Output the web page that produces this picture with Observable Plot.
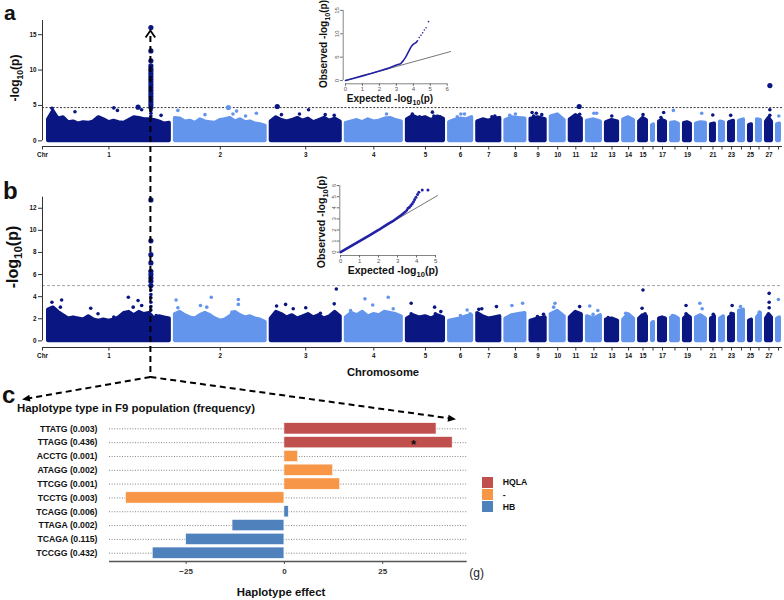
<!DOCTYPE html>
<html>
<head>
<meta charset="utf-8">
<script src="https://cdn.jsdelivr.net/npm/d3@7"></script>
<script src="https://cdn.jsdelivr.net/npm/@observablehq/plot@0.6"></script>
<style>
  html,body{margin:0;padding:0;background:#fff;}
  #root{position:relative;width:784px;height:600px;overflow:hidden;font-family:"Liberation Sans",Arial,sans-serif;}
  #root > .abs{position:absolute;}
  .lg-row{display:flex;align-items:center;height:12.3px;}
  .lg-sw{display:inline-block;width:11px;height:11px;}
  .lg-tx{margin-left:9.4px;font-family:"Liberation Sans",Arial,sans-serif;font-weight:bold;font-size:8.7px;color:#111;}
</style>
</head>
<body>
<div id="root"></div>
<script>
// ================= DATA =================
const chromosomes = d3.range(1, 29);
// chromosome lengths (Mb) read from block widths
const chrLength = [199,148,114,91,60,37,37,32,24,22,19,22,19,17,12,2.3,10.5,12,10.5,15.4,5.6,5.6,7.2,7.2,3.9,5.6,8.9,3.9];
const chrLabelShown = [1,2,3,4,5,6,7,8,9,10,11,12,13,14,15,17,19,21,23,25,27];

// Panel a: top of the dense point cloud, sampled evenly along each chromosome (-log10 p)
const cloudTopA = [
  [3.0,4.2,3.1,3.3,2.6,2.7,2.4,2.6,2.5,2.7,3.3,3.0,2.6,2.8,2.6,2.5,2.9,3.3,3.2,3.0,3.0,2.9,2.7,2.4,2.5],
  [3.2,3.1,2.7,2.8,2.5,3.0,2.7,2.6,2.5,2.9,3.0,3.2,2.7,3.0,2.6,2.7,2.4,2.3,2.1],
  [2.7,3.3,2.9,2.7,2.9,3.2,2.8,3.1,2.6,2.9,3.2,2.8,3.1,2.7],
  [2.5,2.7,2.9,2.6,3.0,2.7,2.8,3.1,3.2,2.9,2.7],
  [3.0,3.5,3.1,3.3,2.9,3.4,3.1],
  [2.6,2.9,3.1,3.0,3.3],
  [2.7,3.0,2.8,3.1,3.2],
  [2.9,3.3,3.2,3.1],
  [3.1,3.3,3.0],
  [3.4,3.7,2.9],
  [3.0,3.6,3.1],
  [2.8,3.0,2.7],
  [2.6,2.9,2.7],
  [3.0,3.3,2.9],
  [2.7,3.2,2.9],
  [2.2,2.3],
  [2.7,2.9,2.7],
  [2.5,2.6,2.4],
  [2.5,2.6,2.4],
  [2.4,2.6,2.5],
  [2.3,2.4],
  [2.7,2.6],
  [2.6,2.8],
  [2.8,3.0],
  [2.2,2.3],
  [3.0,2.9],
  [2.7,3.2,2.7],
  [2.3,2.4]
];
// Panel a: isolated points [chromosome, relative position, -log10 p]
const hitsA = [
  [1,0.03,4.6],[1,0.22,4.1],[1,0.54,4.65],[1,0.57,4.3],[1,0.74,4.75],[1,0.77,4.4],[1,0.93,3.6],
  [2,0.03,4.3],[2,0.33,3.7],[2,0.59,4.7],[2,0.64,3.8],[2,0.68,4.2],[2,0.78,3.5],[2,0.90,3.9],
  [3,0.09,4.85],[3,0.15,3.7],[3,0.41,3.8],[3,0.54,4.4],[3,0.78,3.7],[3,0.91,3.6],
  [4,0.73,3.8],
  [5,0.14,3.8],[5,0.34,3.4],[5,0.69,4.05],[5,0.73,3.5],[5,0.9,3.4],
  [6,0.35,3.4],[6,0.51,3.8],[6,0.67,3.8],
  [7,0.64,3.4],[7,0.77,3.5],
  [8,0.21,3.6],[8,0.5,3.8],
  [9,0.09,4.0],[9,0.19,3.5],[9,0.38,3.9],[9,0.75,3.7],
  [11,0.79,4.85],[11,0.83,3.75],
  [12,0.5,3.9],[12,0.7,3.9],
  [13,0.48,3.5],
  [15,0.5,3.7],
  [17,0.26,3.3],[17,0.68,4.0],
  [18,0.28,4.3],
  [20,0.58,3.9],
  [21,0.45,3.65],
  [23,0.32,3.6],
  [27,0.66,7.8],[27,0.66,4.4],[27,0.66,3.6],
  [28,0.63,3.5]
];
const peakChr = 1;
const peakRel = 0.846;
const peakValuesA = [16.0,12.7,11.3,10.6,10.2,9.9,9.5,9.1,8.7,8.3,7.9,7.5,7.1,6.7,6.3,5.9,5.5,5.1,4.7,4.3,3.9,3.5,3.1];
const thresholdA = 4.7;

// Panel b
const cloudTopB = [
  [2.8,3.0,2.6,2.3,2.0,2.1,2.0,1.9,2.2,1.9,1.8,1.9,1.8,1.9,2.1,2.5,2.6,2.3,2.6,2.4,2.5,2.0,2.2,2.1,2.0],
  [2.4,2.6,2.3,2.1,2.0,2.3,2.5,2.3,2.0,1.8,1.9,2.2,2.6,2.3,2.1,2.2,2.0,1.9,1.7],
  [2.0,2.6,2.4,2.1,2.3,2.0,2.2,2.4,2.1,2.3,2.0,2.2,2.6,2.2],
  [2.1,2.5,2.3,2.6,2.2,2.4,2.3,2.6,2.5,2.4,2.2],
  [2.0,2.3,2.1,2.2,2.0,2.3,2.1],
  [1.8,1.9,2.0,2.2,2.3],
  [2.5,2.2,2.0,2.1,2.2],
  [2.0,2.3,2.4,2.5],
  [1.8,2.0,2.1],
  [2.4,2.7,2.2],
  [2.1,2.6,2.4],
  [2.2,2.0,2.3],
  [1.9,2.0,1.8],
  [1.9,2.4,2.0],
  [2.0,2.3,2.2],
  [1.6,1.7],
  [2.0,2.1,2.0],
  [2.1,2.2,2.0],
  [2.0,2.3,2.1],
  [2.1,2.3,2.0],
  [2.0,2.2],
  [2.0,2.2],
  [2.1,2.4],
  [2.7,2.8],
  [1.8,1.9],
  [2.1,2.5],
  [2.0,2.4,2.1],
  [2.0,2.1]
];
const hitsB = [
  [1,0.03,3.5],[1,0.11,3.7],[1,0.1,3.05],[1,0.35,2.95],[1,0.41,2.45],[1,0.54,2.15],[1,0.66,3.95],[1,0.7,3.05],[1,0.74,3.65],[1,0.77,3.2],[1,0.89,2.3],
  [2,0.01,3.7],[2,0.03,3.0],[2,0.28,3.2],[2,0.35,3.05],[2,0.40,3.95],[2,0.63,2.6],[2,0.70,3.75],[2,0.70,3.3],
  [3,0.08,3.15],[3,0.21,3.3],[3,0.32,2.9],[3,0.5,3.0],[3,0.71,2.5],[3,0.91,3.35],[3,0.94,4.7],
  [4,0.08,2.75],[4,0.34,3.8],[4,0.48,3.25],[4,0.76,3.95],[4,0.85,2.9],
  [5,0.11,3.4],[5,0.11,2.45],[5,0.75,3.05],[5,0.77,2.45],[5,0.92,2.65],
  [6,0.49,2.3],[6,0.79,2.8],[6,0.92,2.45],
  [7,0.06,2.85],[7,0.19,2.9],[7,0.84,3.1],
  [8,0.32,3.2],[8,0.87,3.4],
  [9,0.46,2.2],[9,0.87,2.4],
  [10,0.2,3.05],[10,0.3,3.4],[10,0.7,2.45],
  [11,0.47,2.5],[11,0.83,3.1],
  [12,0.19,3.15],[12,0.44,2.4],[12,0.79,2.75],
  [13,0.16,2.1],
  [14,0.22,2.5],
  [15,0.37,2.95],[15,0.49,4.6],[15,0.77,2.45],
  [18,0.16,2.3],
  [19,0.28,3.2],[19,0.28,2.45],
  [20,0.38,3.4],[20,0.63,2.9],
  [21,0.6,2.4],
  [23,0.43,2.5],[23,0.65,3.2],
  [24,0.28,3.1],
  [26,0.6,2.6],
  [27,0.53,4.3],[27,0.53,3.5],[27,0.53,3.0],
  [28,0.44,3.75]
];
const peakValuesB = [12.75,9.05,7.8,7.05,6.3,6.0,5.7,5.4,5.0,4.6,4.2,3.9,3.5,3.1,2.8];
const thresholdB = 5.0;

// QQ insets (expected, observed -log10 p)
const qqA_expected = [0,0.5,1,1.5,2,2.5,3,3.25,3.4,3.55,3.65,3.75,3.85,3.95,4.05,4.15,4.25];
const qqA_observed = [0,0.5,1,1.5,2.05,2.6,3.3,3.6,4.2,5.0,5.7,6.4,7.1,7.6,7.9,8.1,8.5];
const qqA_tailExpected = [4.35,4.45,4.55,4.65,4.75,4.9];
const qqA_tailObserved = [9.2,9.7,10.2,10.8,11.3,12.6];
const qqB_expected = [0,0.5,1,1.5,2,2.5,2.8,3.0,3.2,3.35,3.45,3.5];
const qqB_observed = [0,0.5,1,1.5,2,2.55,2.85,3.1,3.35,3.55,3.7,3.8];
const qqB_tailExpected = [3.55,3.62,3.7,3.77,3.84,3.9,3.97,4.05,4.12,4.3,4.6];
const qqB_tailObserved = [3.95,4.05,4.2,4.36,4.55,4.75,4.95,5.2,5.4,5.6,5.6];

// Panel c
const haplotypes = ["TTATG (0.003)","TTAGG (0.436)","ACCTG (0.001)","ATAGG (0.002)","TTCGG (0.001)","TCCTG (0.003)","TCAGG (0.006)","TTAGA (0.002)","TCAGA (0.115)","TCCGG (0.432)"];
const hapEffect = [38.7, 42.8, 3.5, 12.4, 14.2, -40.3, 1.1, -13.2, -25.0, -33.5];
const hapGroup = ["HQLA","HQLA","-","-","-","-","HB","HB","HB","HB"];
const groupNames = ["HQLA","-","HB"];
const significantHaps = ["TTAGG (0.436)"];
const effectTicks = [-25, 0, 25];

// ================= STYLE / LAYOUT =================
const DARK = "#0a1682", LIGHT = "#6495ED";
const QQBLUE = "#2121a6";
const groupColor = {"HQLA": "#C0504D", "-": "#F79646", "HB": "#4F81BD"};
const FONT = "'Liberation Sans', Arial, sans-serif";
const CHR_GAP = 9.2, X_PAD_L = 9.5, X_PAD_R = 4.6;
const R_SMALL = 1.8, R_BIG = 2.6;
const intFmt = d3.format("d");

const root = document.getElementById("root");
function place(el, left, top) { el.classList.add("abs"); el.style.left = left + "px"; el.style.top = top + "px"; root.appendChild(el); return el; }

const starts = []; { let p = 0; chrLength.forEach(L => { starts.push(p); p += L + CHR_GAP; }); }
const totalLen = starts[27] + chrLength[27];
const colorOf = c => (c % 2 ? DARK : LIGHT);
const peakPos = starts[peakChr - 1] + peakRel * chrLength[peakChr - 1];

function manhattan({cloud, hits, peakValues, threshold, threshStroke, threshDash, yMin, yMax, yTicks, top, height, marginTop, marginBottom}) {
  const cloudData = [];
  cloud.forEach((arr, i) => {
    const n = arr.length;
    arr.forEach((v, j) => cloudData.push({chr: i + 1, x: starts[i] + chrLength[i] * j / (n - 1), y: v, col: colorOf(i + 1)}));
  });
  const hitData = hits.map(([c, rel, v]) => ({x: starts[c - 1] + rel * chrLength[c - 1], y: v, col: colorOf(c)}));
  const peakData = peakValues.map(v => ({x: peakPos, y: v, col: colorOf(peakChr)}));
  const pts = hitData.concat(peakData);
  const tickPos = [-X_PAD_L].concat(chromosomes.map((c, i) => starts[i] + chrLength[i] / 2));
  const tickLab = new Map(tickPos.map((p, i) => [p, i === 0 ? "Chr" : (chrLabelShown.includes(i) ? String(i) : "")]));
  const svg = Plot.plot({
    width: 784, height, marginLeft: 42, marginRight: 2, marginTop, marginBottom,
    x: {domain: [-X_PAD_L, totalLen + X_PAD_R]},
    y: {domain: [yMin, yMax]},
    color: {type: "identity"},
    style: {fontFamily: FONT, fontSize: "6.3px", fontWeight: "bold", color: "#111", background: "transparent", overflow: "visible"},
    marks: [
      Plot.areaY(cloudData, {x: "x", y1: 0, y2: "y", z: "chr", fill: "col", stroke: "col", strokeWidth: 2 * R_SMALL, strokeLinejoin: "round"}),
      Plot.ruleY([threshold], {stroke: threshStroke, strokeDasharray: threshDash, strokeWidth: 0.9}),
      Plot.dot(pts.filter(d => d.y < threshold), {x: "x", y: "y", r: R_SMALL, fill: "col"}),
      Plot.dot(pts.filter(d => d.y >= threshold), {x: "x", y: "y", r: R_BIG, fill: "col"}),
      Plot.ruleX([-X_PAD_L], {y1: 0, y2: yMax, stroke: "#333", strokeWidth: 1}),
      Plot.ruleY([yMin], {x1: -X_PAD_L, x2: totalLen + X_PAD_R, stroke: "#333", strokeWidth: 1}),
      Plot.axisY({ticks: yTicks, tickFormat: intFmt, tickSize: 4, tickPadding: 2, label: null, stroke: "#333"}),
      Plot.axisX({ticks: tickPos, tickFormat: d => tickLab.get(d), tickSize: 3.5, tickPadding: 3, label: null, stroke: "#333"})
    ]
  });
  return place(svg, 0, top);
}

function qqPlot({exp, obs, tailExp, tailObs, diag, xDomain, yDomain, xTicks, yTicks, left, top, width, height, marginLeft, marginRight, marginTop, marginBottom, tailR, lineW}) {
  const svg = Plot.plot({
    width, height, marginLeft, marginRight, marginTop, marginBottom,
    x: {domain: xDomain}, y: {domain: yDomain},
    style: {fontFamily: FONT, fontSize: "6px", color: "#555", background: "transparent", overflow: "visible"},
    marks: [
      Plot.line([[0, 0], [diag, diag]], {stroke: "#777", strokeWidth: 1}),
      Plot.line(d3.zip(exp, obs), {stroke: QQBLUE, strokeWidth: lineW}),
      Plot.dot(d3.zip(tailExp, tailObs), {r: tailR, fill: QQBLUE}),
      Plot.ruleX([xDomain[0]], {y1: 0, y2: yTicks[yTicks.length - 1], stroke: "#666", strokeWidth: 0.8}),
      Plot.ruleY([yDomain[0]], {x1: 0, x2: xTicks[xTicks.length - 1], stroke: "#666", strokeWidth: 0.8}),
      Plot.axisX({ticks: xTicks, tickFormat: intFmt, tickSize: 2.5, tickPadding: 0.5, label: null, stroke: "#666"}),
      Plot.axisY({ticks: yTicks, tickFormat: intFmt, tickSize: 2.5, tickPadding: 1.5, tickRotate: -90, label: null, stroke: "#666"})
    ]
  });
  return place(svg, left, top);
}

// ---------- panel a ----------
const plotA = manhattan({cloud: cloudTopA, hits: hitsA, peakValues: peakValuesA, threshold: thresholdA,
  threshStroke: "#222", threshDash: "2,1.6", yMin: -0.8, yMax: 17, yTicks: [0, 5, 10, 15],
  top: 0, height: 165, marginTop: 20, marginBottom: 19});
qqPlot({exp: qqA_expected, obs: qqA_observed, tailExp: qqA_tailExpected, tailObs: qqA_tailObserved, diag: 6.2,
  xDomain: [-0.136, 6.3], yDomain: [-0.7, 15.5], xTicks: d3.range(0, 7), yTicks: [0, 5, 10, 15],
  left: 300, top: 0, width: 160, height: 105, marginLeft: 42.7, marginRight: 8.2, marginTop: 7.6, marginBottom: 21.7, tailR: 0.8, lineW: 1.6});

// ---------- panel b ----------
const plotB = manhattan({cloud: cloudTopB, hits: hitsB, peakValues: peakValuesB, threshold: thresholdB,
  threshStroke: "#999", threshDash: "3,2", yMin: -0.6, yMax: 13, yTicks: [0, 2, 4, 6, 8, 10, 12],
  top: 160, height: 200, marginTop: 36.7, marginBottom: 13});
qqPlot({exp: qqB_expected, obs: qqB_observed, tailExp: qqB_tailExpected, tailObs: qqB_tailObserved, diag: 5.1,
  xDomain: [-0.04, 5.25], yDomain: [-0.3, 6.1], xTicks: d3.range(0, 6), yTicks: d3.range(0, 7),
  left: 290, top: 175, width: 160, height: 105, marginLeft: 49.3, marginRight: 10.2, marginTop: 9, marginBottom: 25, tailR: 1.5, lineW: 2.6});

// ---------- panel c ----------
const hapData = haplotypes.map((h, i) => ({i, hap: h, effect: hapEffect[i], col: groupColor[hapGroup[i]]}));
const plotC = Plot.plot({
  width: 784, height: 220, marginLeft: 109, marginRight: 317.3, marginTop: 40.04, marginBottom: 39,
  x: {domain: [-44.5, 46.5]},
  y: {domain: [-0.6, 9.6], reverse: true},
  color: {type: "identity"},
  style: {fontFamily: FONT, fontSize: "8px", fontWeight: "bold", color: "#222", background: "transparent", overflow: "visible"},
  marks: [
    Plot.ruleY(d3.range(haplotypes.length), {stroke: "#777", strokeDasharray: "1,1.6", strokeWidth: 0.9}),
    Plot.rect(hapData, {x1: 0, x2: "effect", y1: d => d.i - 0.41, y2: d => d.i + 0.41, fill: "col", stroke: "#fff", strokeWidth: 0.6}),
    Plot.text(hapData.filter(d => significantHaps.includes(d.hap)), {x: "effect", y: "i", text: () => "*", dx: -39, dy: 2, fontSize: 13, fill: "#111"}),
    Plot.ruleY([9.6], {stroke: "#555", strokeWidth: 1.3}),
    Plot.axisX({ticks: effectTicks, tickSize: 3, tickPadding: 4, label: null, stroke: "#555", fill: "#333"}),
    Plot.axisY({ticks: d3.range(haplotypes.length), tickFormat: i => haplotypes[i], tickSize: 0, tickPadding: 12, label: null, fontSize: 8.7, fill: "#111"})
  ]
});
place(plotC, 0, 380);

// legend
const legend = document.createElement("div");
legend.innerHTML = groupNames.map(g =>
  `<div class="lg-row"><span class="lg-sw" style="background:${groupColor[g]}"></span><span class="lg-tx">${g}</span></div>`).join("");
place(legend, 482.3, 476.2);

// ---------- annotations overlay ----------
const pxPeak = plotA.scale("x").apply(peakPos);
function arrowHead(x0, y0, x1, y1, len, half) {
  const dx = x1 - x0, dy = y1 - y0, L = Math.hypot(dx, dy), ux = dx / L, uy = dy / L;
  const bx = x1 - ux * len, by = y1 - uy * len;
  return `<polygon points="${x1},${y1} ${bx - uy * half},${by + ux * half} ${bx + uy * half},${by - ux * half}" fill="#000"/>`;
}
const sub = size => `<tspan dy="${size * 0.3}" font-size="${size * 0.72}">10</tspan><tspan dy="${-size * 0.3}">(p)</tspan>`;
const dash = `stroke="#000" stroke-width="2" stroke-dasharray="6,4" fill="none"`;
const junctionY = 377, leftTip = [22, 399.5], rightTip = [456, 419.3];
const ov = document.createElementNS("http://www.w3.org/2000/svg", "svg");
ov.setAttribute("width", 784); ov.setAttribute("height", 600);
ov.style.pointerEvents = "none";
ov.innerHTML = `
  <g font-family="${FONT}" fill="#111">
    <text x="4" y="19.5" font-size="21" font-weight="bold">a</text>
    <text x="3" y="199" font-size="24" font-weight="bold">b</text>
    <text x="2" y="403" font-size="24" font-weight="bold">c</text>
    <text transform="translate(19,78) rotate(-90)" text-anchor="middle" font-size="12" font-weight="bold">-log${sub(12)}</text>
    <text transform="translate(17.5,257) rotate(-90)" text-anchor="middle" font-size="16" font-weight="bold">-log${sub(16)}</text>
    <text transform="translate(327,44) rotate(-90)" text-anchor="middle" font-size="10" font-weight="bold">Observed -log${sub(10)}</text>
    <text x="390" y="101.5" text-anchor="middle" font-size="10" font-weight="bold">Expected -log${sub(10)}</text>
    <text transform="translate(325,222) rotate(-90)" text-anchor="middle" font-size="10.5" font-weight="bold">Observed -log${sub(10.5)}</text>
    <text x="393" y="274" text-anchor="middle" font-size="10.5" font-weight="bold">Expected -log${sub(10.5)}</text>
    <text x="383" y="375.5" text-anchor="middle" font-size="11.2" font-weight="bold">Chromosome</text>
    <text x="17" y="412" font-size="11.4" font-weight="bold">Haplotype type in F9 population (frequency)</text>
    <text x="281" y="596" text-anchor="middle" font-size="11.4" font-weight="bold">Haplotype effect</text>
    <text x="476.7" y="577" text-anchor="middle" font-size="12" fill="#222">(g)</text>
  </g>
  <line x1="${pxPeak}" y1="36" x2="${pxPeak}" y2="${junctionY}" ${dash}/>
  <polyline points="${pxPeak - 4.8},37.5 ${pxPeak},30.5 ${pxPeak + 4.8},37.5" stroke="#000" stroke-width="1.8" fill="none"/>
  <line x1="${pxPeak}" y1="${junctionY}" x2="${leftTip[0] + 7}" y2="${leftTip[1] - 1.2}" ${dash}/>
  <line x1="${pxPeak}" y1="${junctionY}" x2="${rightTip[0] - 7}" y2="${rightTip[1] - 1.1}" ${dash}/>
  ${arrowHead(pxPeak, junctionY, leftTip[0], leftTip[1], 8, 3.5)}
  ${arrowHead(pxPeak, junctionY, rightTip[0], rightTip[1], 8, 3.5)}
`;
place(ov, 0, 0);
</script>
</body>
</html>
